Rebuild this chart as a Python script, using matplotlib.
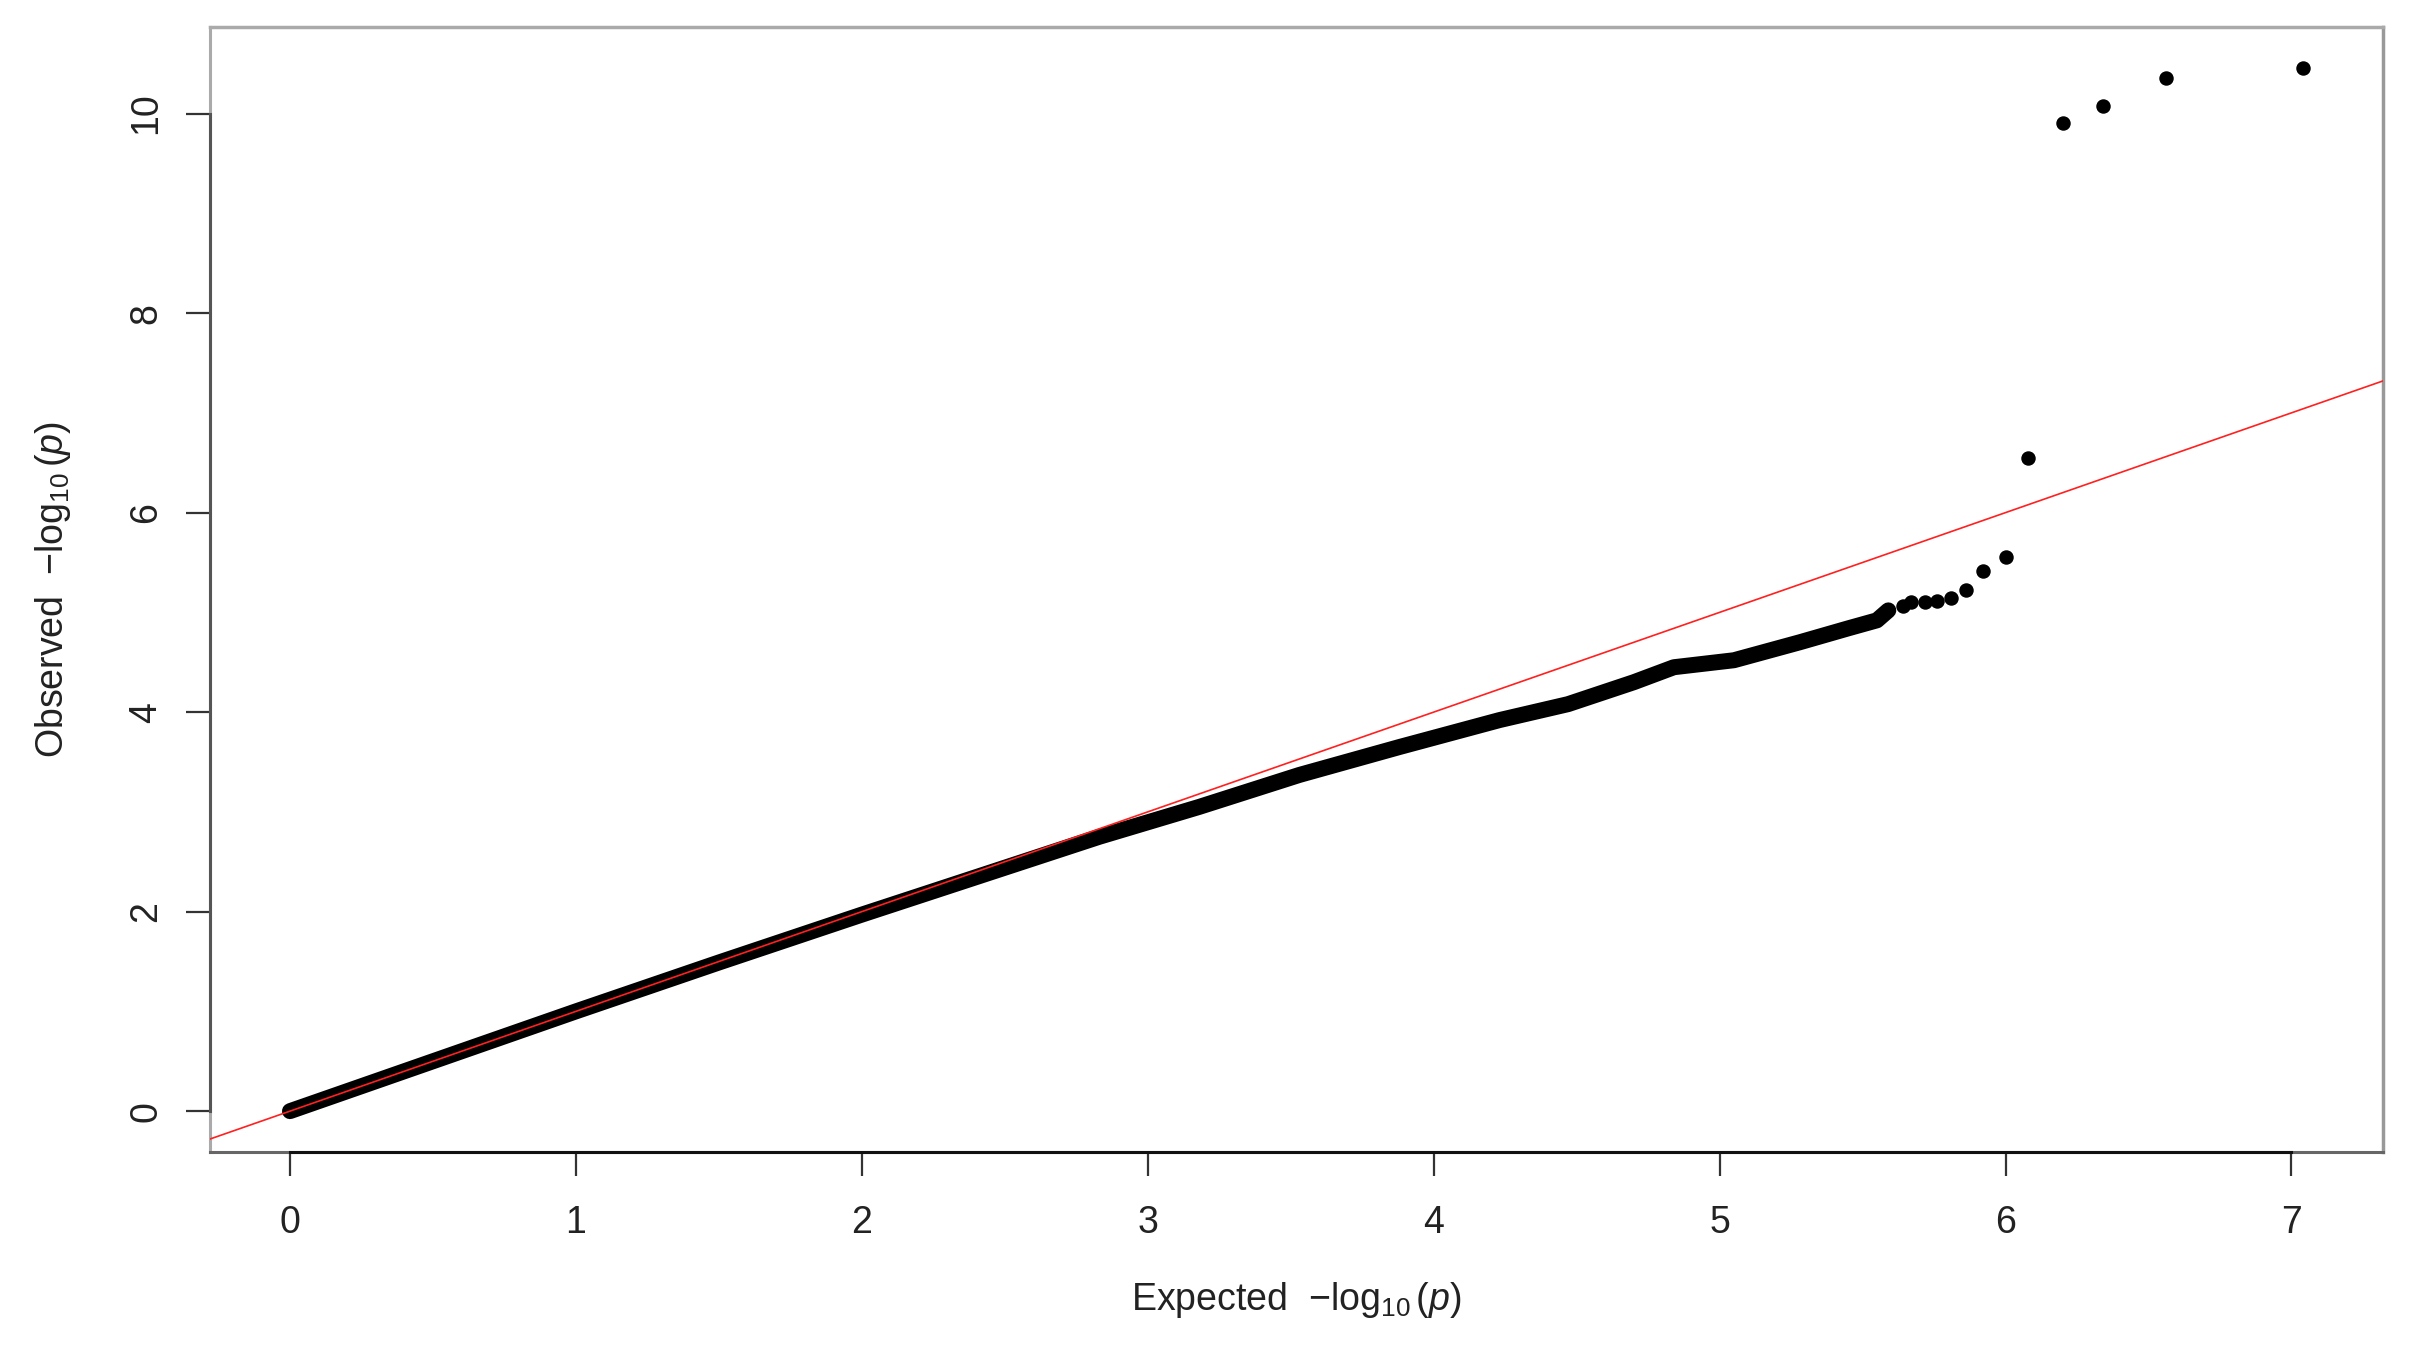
import numpy as np
import matplotlib
matplotlib.use('Agg')
import matplotlib.pyplot as plt
import matplotlib.transforms as mtransforms

# dense body of the QQ curve (expected, observed)
expected_body = [0.0, 0.5, 1.0, 1.5, 2.0, 2.5, 2.83, 3.18, 3.53, 3.88, 4.23, 4.47,
                 4.70, 4.84, 5.05, 5.28, 5.45, 5.55, 5.59]
observed_body = [0.0, 0.5, 1.0, 1.49, 1.97, 2.44, 2.75, 3.05, 3.37, 3.65, 3.92, 4.08,
                 4.30, 4.45, 4.52, 4.70, 4.84, 4.92, 5.02]
# separate points in the tail
expected_tail = [5.64, 5.67, 5.72, 5.76, 5.81, 5.86, 5.92, 6.00, 6.08, 6.20, 6.34, 6.56, 7.04]
observed_tail = [5.06, 5.10, 5.10, 5.11, 5.14, 5.22, 5.41, 5.55, 6.55, 9.91, 10.08, 10.36, 10.46]

x_ticks = [0, 1, 2, 3, 4, 5, 6, 7]
y_ticks = [0, 2, 4, 6, 8, 10]

plt.rcParams['font.family'] = ['Liberation Sans', 'DejaVu Sans']
plt.rcParams['mathtext.fontset'] = 'custom'
plt.rcParams['mathtext.rm'] = 'Liberation Sans'
plt.rcParams['mathtext.it'] = 'Liberation Sans:italic'

fig = plt.figure(figsize=(24.21, 13.46), dpi=100)
ax = fig.add_axes([0.0867, 0.1441, 0.8976, 0.836])

ms = 9.4
ax.plot(expected_body, observed_body, color='black', lw=11.5, solid_capstyle='round',
        solid_joinstyle='round', zorder=2)
ax.plot(expected_tail, observed_tail, 'o', color='black', ms=ms, mec='black', zorder=3)
ax.axline((0, 0), slope=1, color='#ff2020', lw=1.2, zorder=4)

ax.set_xlim(-0.28, 7.32)
ax.set_ylim(-0.41, 10.87)
ax.set_xticks(x_ticks)
ax.set_yticks(y_ticks)
ax.tick_params(axis='both', labelsize=27, length=17, width=1.6, color='#333333',
               labelcolor='#222222')
ax.tick_params(axis='x', pad=21)
ax.tick_params(axis='y', pad=16)
for lab in ax.get_yticklabels():
    lab.set_rotation(90)
    lab.set_va('center')

ax.spines['left'].set_color('#aaaaaa')
ax.spines['left'].set_linewidth(2.2)
ax.spines['top'].set_color('#aaaaaa')
ax.spines['top'].set_linewidth(2.5)
ax.spines['right'].set_color('#999999')
ax.spines['right'].set_linewidth(2.5)
ax.spines['bottom'].set_color('#666666')
ax.spines['bottom'].set_linewidth(2.2)

# R style axis lines spanning the tick range
tx = mtransforms.blended_transform_factory(ax.transData, ax.transAxes)
ty = mtransforms.blended_transform_factory(ax.transAxes, ax.transData)
ax.plot([x_ticks[0], x_ticks[-1]], [0, 0], transform=tx, color='#111111', lw=2.2,
        clip_on=False, zorder=5)
ax.plot([0, 0], [y_ticks[0], y_ticks[-1]], transform=ty, color='#555555', lw=2.2,
        clip_on=False, zorder=5)

ax.set_xlabel(r'Expected  $-\log_{10}(\mathit{p})$', fontsize=27, color='#222222', labelpad=28)
ax.set_ylabel(r'Observed  $-\log_{10}(\mathit{p})$', fontsize=27, color='#222222', labelpad=40)

fig.savefig('out.png', dpi=100, facecolor='white')
